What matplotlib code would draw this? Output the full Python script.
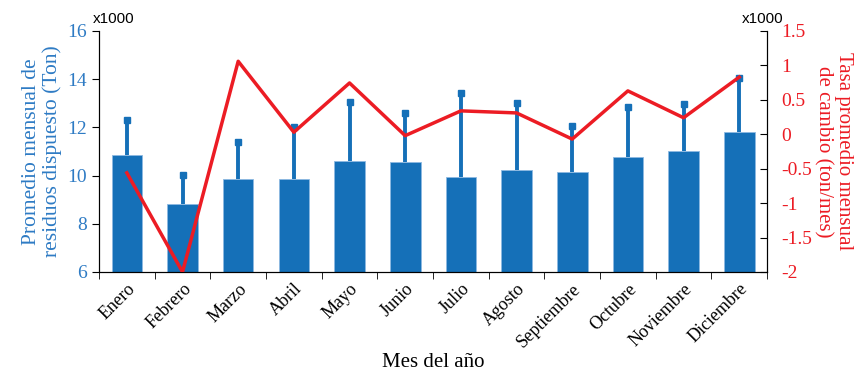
import matplotlib.pyplot as plt
import numpy as np

# Monthly data
meses = ['Enero', 'Febrero', 'Marzo', 'Abril', 'Mayo', 'Junio', 'Julio',
         'Agosto', 'Septiembre', 'Octubre', 'Noviembre', 'Diciembre']
promedio = [10.85, 8.82, 9.86, 9.86, 10.60, 10.56, 9.94, 10.23, 10.15, 10.77, 11.00, 11.81]
error_sup = [1.45, 1.20, 1.54, 2.14, 2.45, 2.04, 3.49, 2.77, 1.91, 2.08, 1.97, 2.24]
tasa = [-0.56, -2.00, 1.06, 0.03, 0.745, -0.02, 0.34, 0.31, -0.07, 0.63, 0.24, 0.83]

azul = '#1570B8'
azul_txt = '#2E7BC4'
rojo = '#EC1C24'

plt.rcParams['font.family'] = ['Liberation Serif', 'DejaVu Serif']

fig = plt.figure(figsize=(8.58, 3.76), dpi=100)
ax = fig.add_axes([0.1154, 0.2766, 0.7786, 0.641])
x = np.arange(1, 13)
tope = np.array(promedio) + np.array(error_sup)

ax.bar(x, promedio, width=0.55, color=azul, edgecolor='#8DB9E2', linewidth=0.6, zorder=2)
# upper error bars only
ax.vlines(x, promedio, tope, color=azul, linewidth=2.8, zorder=3)
ax.plot(x, tope, linestyle='none', marker='s', markersize=4, color=azul, zorder=3)

ax.set_xlim(0.5, 12.5)
ax.set_ylim(6, 16)
ax.set_yticks([6, 8, 10, 12, 14, 16])
ax.tick_params(axis='y', labelcolor=azul_txt, labelsize=14, direction='out', length=5,
               color='black')
ax.set_xticks(x)
ax.set_xticklabels(meses, rotation=45, ha='right', rotation_mode='anchor', fontsize=13)
ax.tick_params(axis='x', which='major', length=0, pad=6)
ax.set_xticks(np.arange(0.5, 13), minor=True)
ax.tick_params(axis='x', which='minor', length=5, direction='out')
ax.spines['top'].set_visible(False)
ax.set_ylabel('Promedio mensual de\nresiduos dispuesto (Ton)', color=azul_txt, fontsize=15.5,
              linespacing=1.1)
ax.set_xlabel('Mes del año', fontsize=15, labelpad=2)
ax.text(-0.009, 1.02, 'x1000', transform=ax.transAxes, fontsize=11,
        family='Liberation Sans', ha='left', va='bottom')

ax2 = ax.twinx()
ax2.plot(x, tasa, color=rojo, linewidth=2.5, zorder=4)
ax2.set_ylim(-2, 1.5)
ax2.set_yticks([-2, -1.5, -1, -0.5, 0, 0.5, 1, 1.5])
ax2.set_yticklabels(['-2', '-1.5', '-1', '-0.5', '0', '0.5', '1', '1.5'])
ax2.tick_params(axis='y', labelcolor=rojo, labelsize=14, direction='in', length=5,
                color='black', pad=10)
ax2.spines['top'].set_visible(False)
ax2.set_ylabel('Tasa promedio mensual\nde cambio (ton/mes)', color=rojo, fontsize=15,
               rotation=270, labelpad=30, linespacing=1.1)
ax2.text(1.025, 1.02, 'x1000', transform=ax2.transAxes, fontsize=11,
         family='Liberation Sans', ha='right', va='bottom')

fig.savefig('out.png', dpi=100)
